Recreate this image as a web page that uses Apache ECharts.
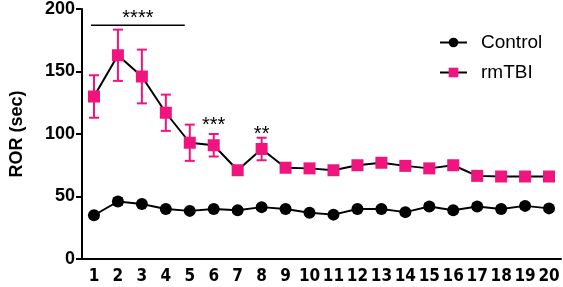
<!DOCTYPE html>
<html>
<head>
<meta charset="utf-8">
<script src="https://cdn.jsdelivr.net/npm/echarts@6/dist/echarts.min.js"></script>
<style>
  html, body { margin: 0; padding: 0; background: #fff; }
  #chart { width: 563px; height: 287px; }
</style>
</head>
<body>
<div id="chart"></div>
<script>
const days = ['1', '2', '3', '4', '5', '6', '7', '8', '9', '10',
  '11', '12', '13', '14', '15', '16', '17', '18', '19', '20'];

const controlMean = [35, 46, 44, 40, 38.5, 40, 39, 41.5, 40, 37, 35.5, 40, 40, 37.5, 42, 39, 42, 40, 42.5, 40.5];
const controlErr = [1, 2.5, 1, 1, 1, 1, 1, 1, 1, 1, 1, 1, 1, 1, 2, 1, 2, 2, 2, 1];

const tbiMean = [130, 163, 146, 117, 93, 91, 71, 88, 73, 72.5, 71, 75, 77, 74.5, 72.5, 75, 66.5, 66, 66, 66];
const tbiErr = [17, 20.5, 21.5, 14.5, 14.5, 9, 1.5, 9, 2, 2, 1.5, 2, 2, 1.5, 1.5, 2, 2, 1.5, 1.5, 1.5];

// [fromIndex, toIndex, y, stars]
const sigMarks = [
  [0, 4, 187, '****'],
  [5, 5, 101, '***'],
  [7, 7, 94, '**']
];

const FONT = '"Liberation Sans", Arial, sans-serif';
const NARROW = '"Liberation Sans Narrow", "DejaVu Sans Condensed", "Liberation Sans", sans-serif';

const chart = echarts.init(document.getElementById('chart'), null, { renderer: 'canvas' });

function errorData(mean, err) {
  return mean.map((m, i) => [i, m - err[i], m + err[i]]);
}

function renderError(color) {
  return function (params, api) {
    const top = api.coord([api.value(0), api.value(2)]);
    const bot = api.coord([api.value(0), api.value(1)]);
    const half = 5;
    const style = { stroke: color, lineWidth: 2 };
    return {
      type: 'group',
      children: [
        { type: 'line', shape: { x1: top[0], y1: top[1], x2: bot[0], y2: bot[1] }, style },
        { type: 'line', shape: { x1: top[0] - half, y1: top[1], x2: top[0] + half, y2: top[1] }, style },
        { type: 'line', shape: { x1: bot[0] - half, y1: bot[1], x2: bot[0] + half, y2: bot[1] }, style }
      ]
    };
  };
}

const option = {
  animation: false,
  grid: { left: 76, right: 2, top: 8, bottom: 28 },
  legend: {
    orient: 'vertical',
    left: 434,
    top: 28,
    itemWidth: 27,
    itemHeight: 12,
    itemGap: 11,
    data: ['Control', 'rmTBI'],
    textStyle: { fontFamily: FONT, fontSize: 19, color: '#000', padding: [0, 0, 0, 9] }
  },
  xAxis: {
    type: 'category',
    data: days,
    boundaryGap: true,
    axisLine: { lineStyle: { color: '#000', width: 2 } },
    axisTick: { alignWithLabel: true, length: 6, lineStyle: { color: '#000', width: 2 } },
    axisLabel: { interval: 0, color: '#000', fontFamily: NARROW, fontWeight: 'bold', fontSize: 17, margin: 9 }
  },
  yAxis: {
    type: 'value',
    min: 0,
    max: 200,
    interval: 50,
    name: 'ROR (sec)',
    nameLocation: 'middle',
    nameGap: 56,
    nameTextStyle: { fontFamily: FONT, fontWeight: 'bold', fontSize: 18, color: '#000' },
    splitLine: { show: false },
    axisLine: { show: true, lineStyle: { color: '#000', width: 2 } },
    axisTick: { show: true, length: 6, lineStyle: { color: '#000', width: 2 } },
    axisLabel: { color: '#000', fontFamily: FONT, fontWeight: 'bold', fontSize: 18, margin: 7 }
  },
  series: [
    {
      name: 'ctrlErr',
      type: 'custom',
      z: 1,
      renderItem: renderError('#000'),
      data: errorData(controlMean, controlErr)
    },
    {
      name: 'tbiErr',
      type: 'custom',
      z: 1,
      renderItem: renderError('#f0147f'),
      data: errorData(tbiMean, tbiErr)
    },
    {
      name: 'Control',
      type: 'line',
      z: 3,
      data: controlMean,
      symbol: 'circle',
      symbolSize: 12,
      itemStyle: { color: '#000' },
      lineStyle: { color: '#000', width: 2 }
    },
    {
      name: 'rmTBI',
      type: 'line',
      z: 3,
      data: tbiMean,
      symbol: 'rect',
      symbolSize: 12,
      itemStyle: { color: '#f0147f' },
      lineStyle: { color: '#000', width: 2 }
    },
    {
      name: 'sig',
      type: 'custom',
      z: 4,
      renderItem: function (params, api) {
        const a = api.coord([api.value(0), api.value(2)]);
        const b = api.coord([api.value(1), api.value(2)]);
        const text = sigMarks[params.dataIndex][3];
        const span = api.value(1) > api.value(0);
        const children = [];
        if (span) {
          children.push({ type: 'line', shape: { x1: a[0] - 3, y1: a[1], x2: b[0] - 5, y2: b[1] },
            style: { stroke: '#000', lineWidth: 1.5 } });
        }
        children.push({
          type: 'text',
          x: (a[0] + b[0]) / 2 - (span ? 4 : 0),
          y: a[1] + 3,
          style: { text, fill: '#000', font: '20px ' + FONT, align: 'center', verticalAlign: 'bottom' }
        });
        return { type: 'group', children };
      },
      data: sigMarks.map(s => [s[0], s[1], s[2]])
    }
  ]
};

chart.setOption(option);
</script>
</body>
</html>
